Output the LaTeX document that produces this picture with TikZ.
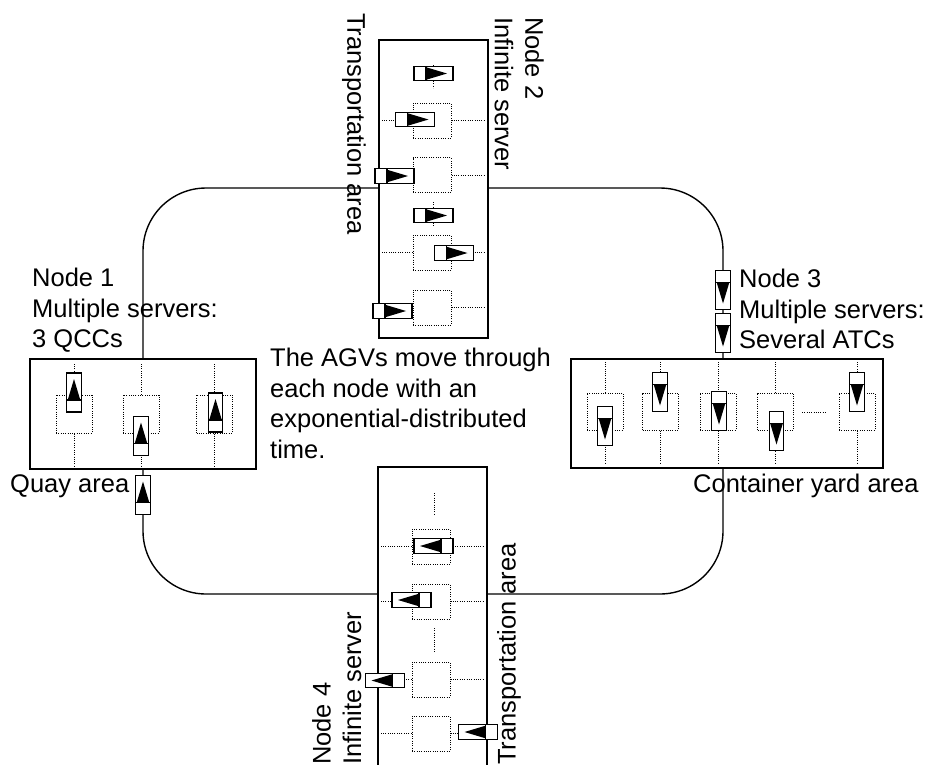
\documentclass[tikz,border=0pt]{standalone}
\usepackage{fontspec}
\setmainfont{Liberation Sans}
\usetikzlibrary{positioning}

\begin{document}
\begin{tikzpicture}[x=1pt,y=-1pt,
  every node/.style={font=\fontsize{25.5}{30.5}\selectfont,inner sep=0pt},
  area/.style={draw,line width=1.2pt},
  srv/.style={draw,line width=1pt,dash pattern=on 1pt off 1.3pt,minimum width=38pt,minimum height=35pt},
  srvv/.style={srv,minimum width=36pt,minimum height=38pt},
  link/.style={line width=1pt,dash pattern=on 1pt off 1.3pt},
  route/.style={line width=1.4pt,rounded corners=63pt},
  agv/.pic={
    \draw[fill=white,line width=1.1pt] (-19.5,-7.2) rectangle (19.5,7.2);
    \draw[line width=1.1pt] (-7.5,-7.2) -- (-7.5,7.2);
    \fill (-7.5,-6.3) -- (13.5,0) -- (-7.5,6.3) -- cycle;
  }]
  \useasboundingbox (0,0) rectangle (926,764);

  % areas
  \node[area,minimum width=226pt,minimum height=110pt] (box1) at (143,414) {};
  \node[area,minimum width=109pt,minimum height=298pt] (box2) at (433.5,189) {};
  \node[area,minimum width=312pt,minimum height=109pt] (box3) at (727,413.5) {};
  \node[area,minimum width=109pt,minimum height=320pt] (box4) at (432.5,627) {};
  \coordinate (c3) at (723,0);
  \coordinate (ytop) at (0,188);
  \coordinate (ybot) at (0,594);

  % AGV route
  \draw[route] (box2.west |- ytop) -| (box1.north);
  \draw[route] (box2.east |- ytop) -| (c3 |- box3.north);
  \draw[route] (box4.west |- ybot) -| (box1.south);
  \draw[route] (box4.east |- ybot) -| (c3 |- box3.south);

  % servers, transportation areas
  \foreach \n/\y in {s21/120.5,s22/175,s23/252.5,s24/307.5}{
    \node[srv] (\n) at (432,\y) {};
    \draw[link,shorten >=3pt] (\n.west) -- (\n.west -| box2.west);
    \draw[link,shorten >=3pt] (\n.east) -- (\n.east -| box2.east);
  }
  \foreach \n/\y in {s41/546.5,s42/601.5,s43/679.5,s44/733.5}{
    \node[srv] (\n) at (431,\y) {};
    \draw[link,shorten >=3pt] (\n.west) -- (\n.west -| box4.west);
    \draw[link,shorten >=3pt] (\n.east) -- (\n.east -| box4.east);
  }
  \draw[link] (433.5,65) -- (433.5,88);
  \draw[link] (433.5,202) -- (433.5,227);
  \draw[link] (434,493) -- (434,515);
  \draw[link] (434,628) -- (434,652);

  % servers, quay and yard
  \foreach \n/\x in {s11/74,s12/141,s13/214.5}{
    \node[srvv] (\n) at (\x,414) {};
    \draw[link,shorten >=5pt] (\n.north) -- (\n.north |- box1.north);
    \draw[link,shorten >=3pt] (\n.south) -- (\n.south |- box1.south);
  }
  \foreach \n/\x in {s31/605,s32/660.5,s33/718,s34/775.5,s35/857}{
    \node[srvv,minimum height=37pt] (\n) at (\x,411.5) {};
    \draw[link,shorten >=4pt] (\n.north) -- (\n.north |- box3.north);
    \draw[link,shorten >=4pt] (\n.south) -- (\n.south |- box3.south);
  }
  \draw[link] (802,412) -- (827,412);

  % AGVs
  \foreach \x/\y/\r in {433.5/73.5/0,415/119.5/0,394.5/176/0,433.5/215.5/0,
      454/253/0,392.5/311/0,433.5/546/180,411.5/600/180,385/680.5/180,
      478/732/180,74/392.5/90,141/436/90,215.5/412.5/90,143/495/90,
      723/290/-90,723/333/-90,605/426/-90,660/392/-90,719/411/-90,
      776.5/431/-90,857/392/-90}
    \pic[rotate=\r] at (\x,\y) {agv};

  % labels
  \node[anchor=north west,align=left] (t1) at (32,268) {Node 1\\Multiple servers:\\3 QCCs};
  \node[anchor=north west,align=left] (t3) at (739,269) {Node 3\\Multiple servers:\\Several ATCs};
  \node[anchor=north west,align=left] (tc) at (270,348)
    {The AGVs move through\\each node with an\\exponential-distributed\\time.};
  \node[anchor=base west] (tq) at (10,492) {Quay area};
  \node[anchor=base west] (ty) at (693,492) {Container yard area};
  \node[anchor=north west,align=left,rotate=-90] (t2) at (544,17) {Node 2\\Infinite server};
  \node[anchor=north west,rotate=-90] (ta2) at (366,13) {Transportation area};
  \node[anchor=north west,align=left,rotate=90] (t4) at (312,765) {Node 4\\Infinite server};
  \node[anchor=north west,rotate=90] (ta4) at (497,765) {Transportation area};
\end{tikzpicture}
\end{document}
